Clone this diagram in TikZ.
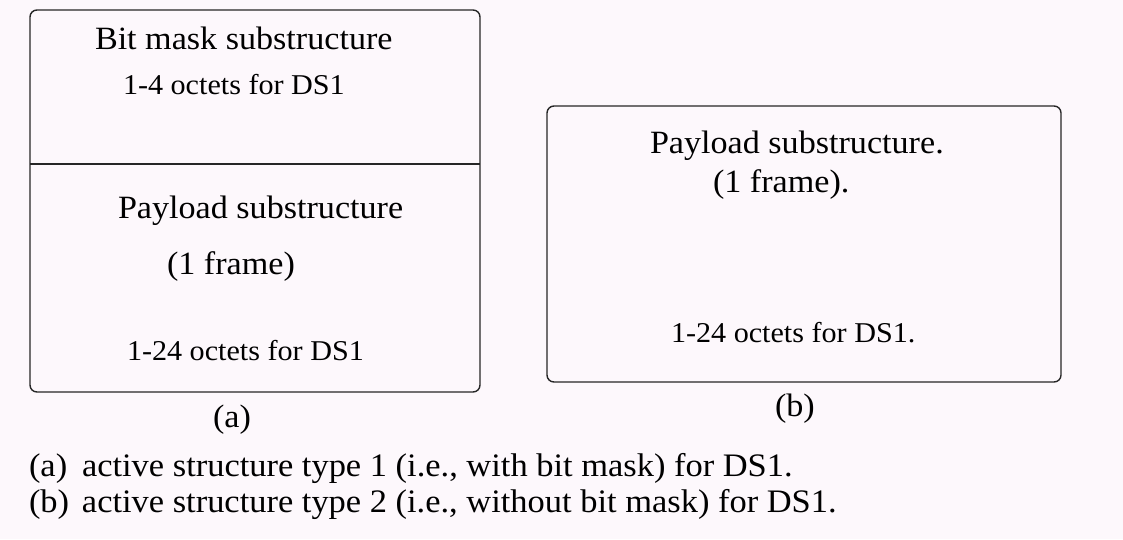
\documentclass[tikz,border=0pt]{standalone}
\usepackage{fontspec}
\setmainfont{Liberation Serif}[FakeStretch=1.05]
\begin{document}
\begin{tikzpicture}[x=1pt,y=-1pt,
  every node/.style={inner sep=0pt,outer sep=0pt,anchor=base west,text=black},
  big/.style={font=\fontsize{32.5}{36}\selectfont},
  small/.style={font=\fontsize{28.7}{32}\selectfont},
  legend/.style={font=\fontsize{32.8}{36}\selectfont},
  frame box/.style={draw=black!85,line width=1.4pt,rounded corners=7pt,
    anchor=center,minimum width=#1},
]
\definecolor{paper}{RGB}{253,248,252}
% page background and bounding box
\fill[paper] (0,0) rectangle (1123,539);
\useasboundingbox (0,0) rectangle (1123,539);

% structure (a): bit mask over payload
\node[frame box=450pt,minimum height=382pt] (boxa) at (255,201) {};
\coordinate (divw) at (30,164);
\coordinate (dive) at (480,164);
\draw[black!85,line width=1.4pt] (divw) -- (dive);

\node[big]   (bmtitle) at (95,49)   {Bit mask substructure};
\node[small] (bmsize)  at (123,94)  {1-4 octets for DS1};
\node[big]   (pltitle) at (118,218) {Payload substructure};
\node[big]   (plframe) at (167,274) {(1 frame)};
\node[small] (plsize)  at (127,360) {1-24 octets for DS1};
\node[big]   (labela)  at (213,427) {(a)};

% structure (b): payload only
\node[frame box=514pt,minimum height=276pt] (boxb) at (804,244) {};
\node[big]   (pbtitle) at (650,153) {Payload substructure.};
\node[big]   (pbframe) at (713,192) {(1 frame).};
\node[small] (pbsize)  at (671,342) {1-24 octets for DS1.};
\node[big]   (labelb)  at (775,416) {(b)};

% legend
\node[legend] (capa) at (29,476) {\makebox[53pt][l]{(a)}active structure type 1 (i.e., with bit mask) for DS1.};
\node[legend] (capb) at (29,512) {\makebox[53pt][l]{(b)}active structure type 2 (i.e., without bit mask) for DS1.};
\end{tikzpicture}
\end{document}
